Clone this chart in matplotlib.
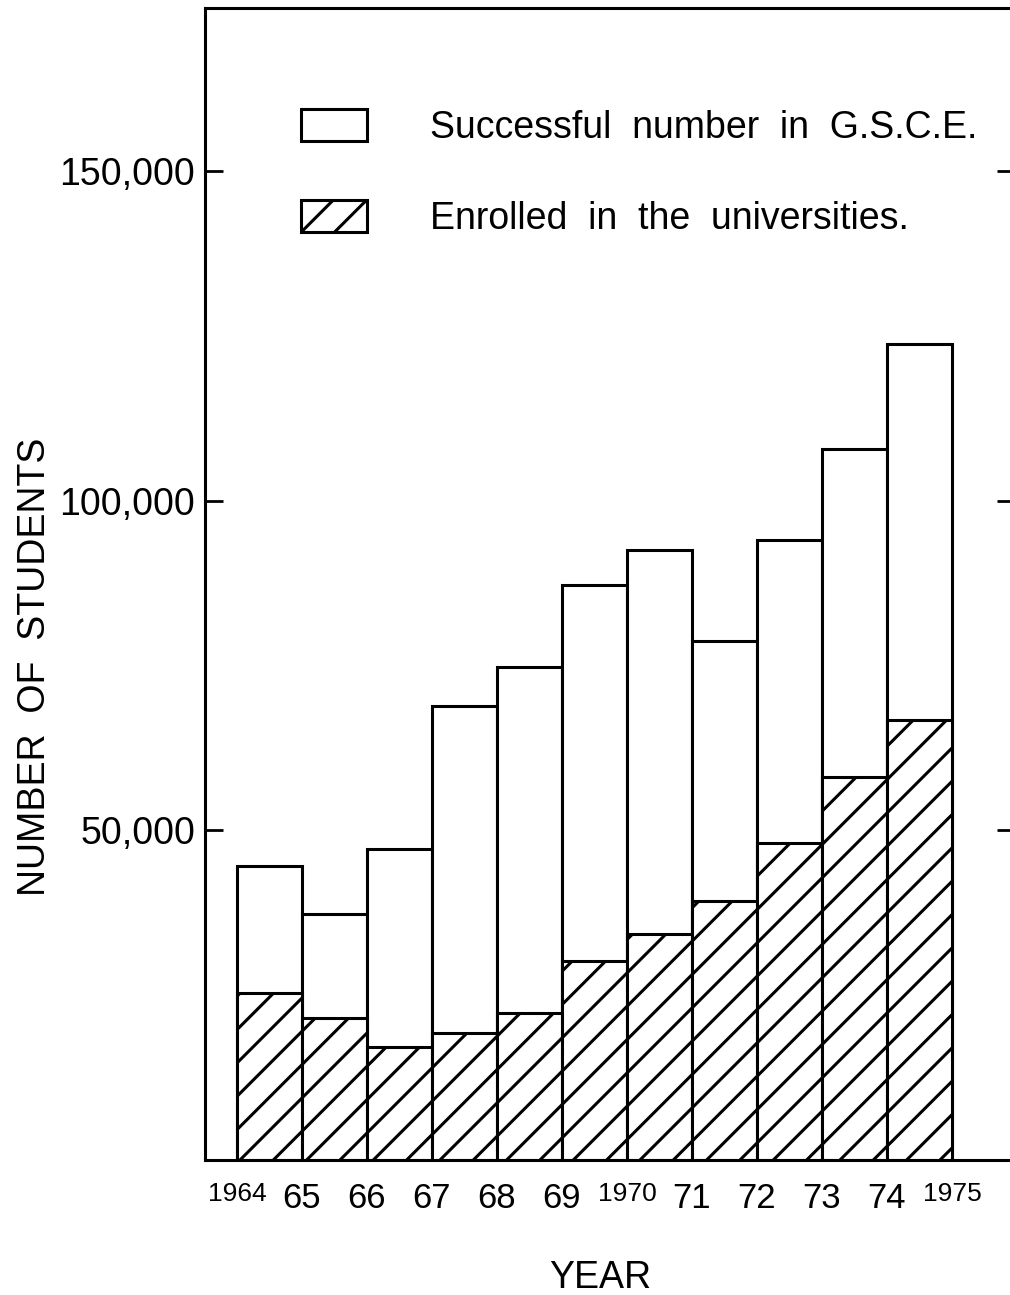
import matplotlib
matplotlib.use('Agg')
import matplotlib.pyplot as plt

# data
years = [1964, 1965, 1966, 1967, 1968, 1969, 1970, 1971, 1972, 1973, 1974, 1975]
year_labels = ['1964', '65', '66', '67', '68', '69', '1970', '71', '72', '73', '74', '1975']
successful = [44600, 37300, 47200, 68900, 74800, 87200, 92600, 78800, 94100, 107900, 123800]
enrolled = [25300, 21500, 17100, 19300, 22300, 30200, 34300, 39300, 48100, 58100, 66800]

y_ticks = [50000, 100000, 150000]
y_tick_labels = ['50,000', '100,000', '150,000']

text_font = ['Liberation Sans', 'DejaVu Sans']

plt.rcParams['hatch.linewidth'] = 1.1
plt.rcParams['font.family'] = text_font


def main():
    # dpi 200 so the hatch spacing comes out as wide as in the print
    fig = plt.figure(figsize=(5.05, 6.475), dpi=200)
    ax = fig.add_axes([0.2030, 0.10425, 0.80198, 0.88958])

    lw = 1.1
    bar_x = years[:-1]
    white = ax.bar(bar_x, successful, width=1.0, align='edge',
                   facecolor='white', edgecolor='black', linewidth=lw,
                   label='Successful  number  in  G.S.C.E.')
    hatched = ax.bar(bar_x, enrolled, width=1.0, align='edge',
                     facecolor='white', edgecolor='black', linewidth=lw,
                     hatch='//', label='Enrolled  in  the  universities.')

    ax.set_xlim(1963.51, 1975.97)
    ax.set_ylim(0, 174800)

    for side in ['left', 'top', 'bottom']:
        ax.spines[side].set_linewidth(lw)
    ax.spines['right'].set_visible(False)

    ax.set_yticks(y_ticks)
    ax.set_yticklabels(y_tick_labels, fontsize=13.5)
    ax.tick_params(axis='y', left=True, right=True, direction='in',
                   length=6.5, width=1.0, pad=3.6)

    ax.set_xticks(years)
    ax.set_xticklabels(year_labels)
    ax.tick_params(axis='x', length=0, pad=8)
    for lab in ax.get_xticklabels():
        if len(lab.get_text()) == 4:
            lab.set_fontsize(9.5)
        else:
            lab.set_fontsize(12.5)

    ax.set_ylabel('NUMBER  OF  STUDENTS', fontsize=13.5)
    ax.yaxis.set_label_coords(-0.188, 0.428)
    ax.set_xlabel('YEAR', fontsize=13.5)
    ax.xaxis.set_label_coords(0.488, -0.0865)

    ax.legend(handles=[white, hatched], loc='upper left',
              bbox_to_anchor=(301 / 1010, 1 - 109 / 1295),
              bbox_transform=fig.transFigure, frameon=False,
              fontsize=13.5, borderpad=0, borderaxespad=0,
              handlelength=1.76, handleheight=0.94,
              handletextpad=1.68, labelspacing=1.45)

    fig.savefig('out.png', dpi=200)


if __name__ == '__main__':
    main()
